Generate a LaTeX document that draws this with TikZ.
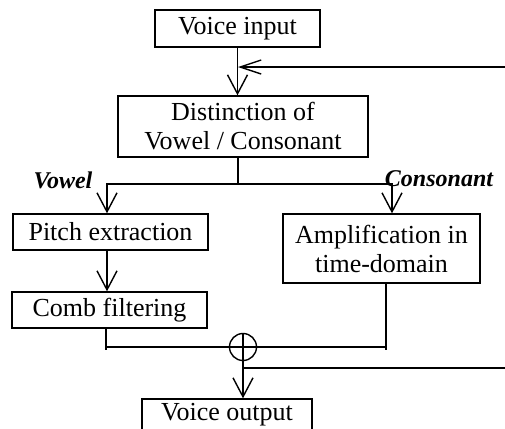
\documentclass[tikz,border=0pt]{standalone}
\usepackage{fontspec}
\setmainfont{Liberation Serif}
\usetikzlibrary{arrows.meta}

\begin{document}
\begin{tikzpicture}[x=0.5pt,y=-0.5pt,line width=0.7pt,
    blk/.style={draw,inner sep=0pt,align=center,font=\fontsize{13}{14.5}\selectfont},
    tag/.style={font=\fontsize{12}{14}\selectfont\bfseries\itshape},
    >={Straight Barb[length=9.5pt,width=10pt]}]
    \useasboundingbox (0,0) rectangle (505,429);
    \node[blk,minimum width=82.5pt,minimum height=18.5pt] (IN) at (237.5,28.5) {Voice input};
    \node[blk,minimum width=125pt,minimum height=30.5pt] (VUC) at (243,126.5) {Distinction of\\Vowel / Consonant};
    \node[blk,minimum width=97.5pt,minimum height=18pt] (PITCH) at (110.5,232) {Pitch extraction};
    \node[blk,minimum width=98.5pt,minimum height=34.5pt] (AMP) at (381.5,248.5) {Amplification in\\time-domain};
    \node[blk,minimum width=97.5pt,minimum height=18pt] (COMB) at (109.5,310) {Comb filtering};
    \node[draw,circle,inner sep=0pt,minimum size=13.5pt] (SUM) at (243,347) {};
    \node[blk,minimum width=85pt,minimum height=16pt] (OUT) at (227,415) {Voice output};
    \node[tag] (VOW) at (63,180) {Vowel};
    \node[tag] (CONS) at (439,179) {Consonant};

    \coordinate (FB) at (238,67);
    \coordinate (FBIN) at (505,67);
    \coordinate (FBOUT) at (505,368);
    \coordinate (BR) at (238,184);
    \coordinate (LV) at (107,184);
    \coordinate (RC) at (392,184);
    \coordinate (LS) at (106,350);
    \coordinate (RS) at (386,350);

    % summing point
    \draw (SUM.north) -- (SUM.south);
    \draw (SUM.west) -- (SUM.east);

    \draw[->] (IN.south) -- (VUC.north -| IN);
    \draw[-{Straight Barb[length=10.5pt,width=7pt]}] (FBIN) -- (FB);
    \draw (VUC.south -| BR) -- (BR);
    \draw[->] (BR) -- (LV) -- (PITCH.north -| LV);
    \draw[->] (BR) -- (RC) -- (AMP.north -| RC);
    \draw[->] (PITCH.south -| LV) -- (COMB.north -| LV);
    \draw (COMB.south -| LS) -- (LS);
    \draw (SUM.west -| LS) -- (SUM.west);
    \draw (AMP.south -| RS) -- (RS);
    \draw (SUM.east -| RS) -- (SUM.east);
    \draw[->] (SUM.south) -- (OUT.north -| SUM);
    \draw (FBOUT) -- (SUM.south |- FBOUT);
\end{tikzpicture}
\end{document}
